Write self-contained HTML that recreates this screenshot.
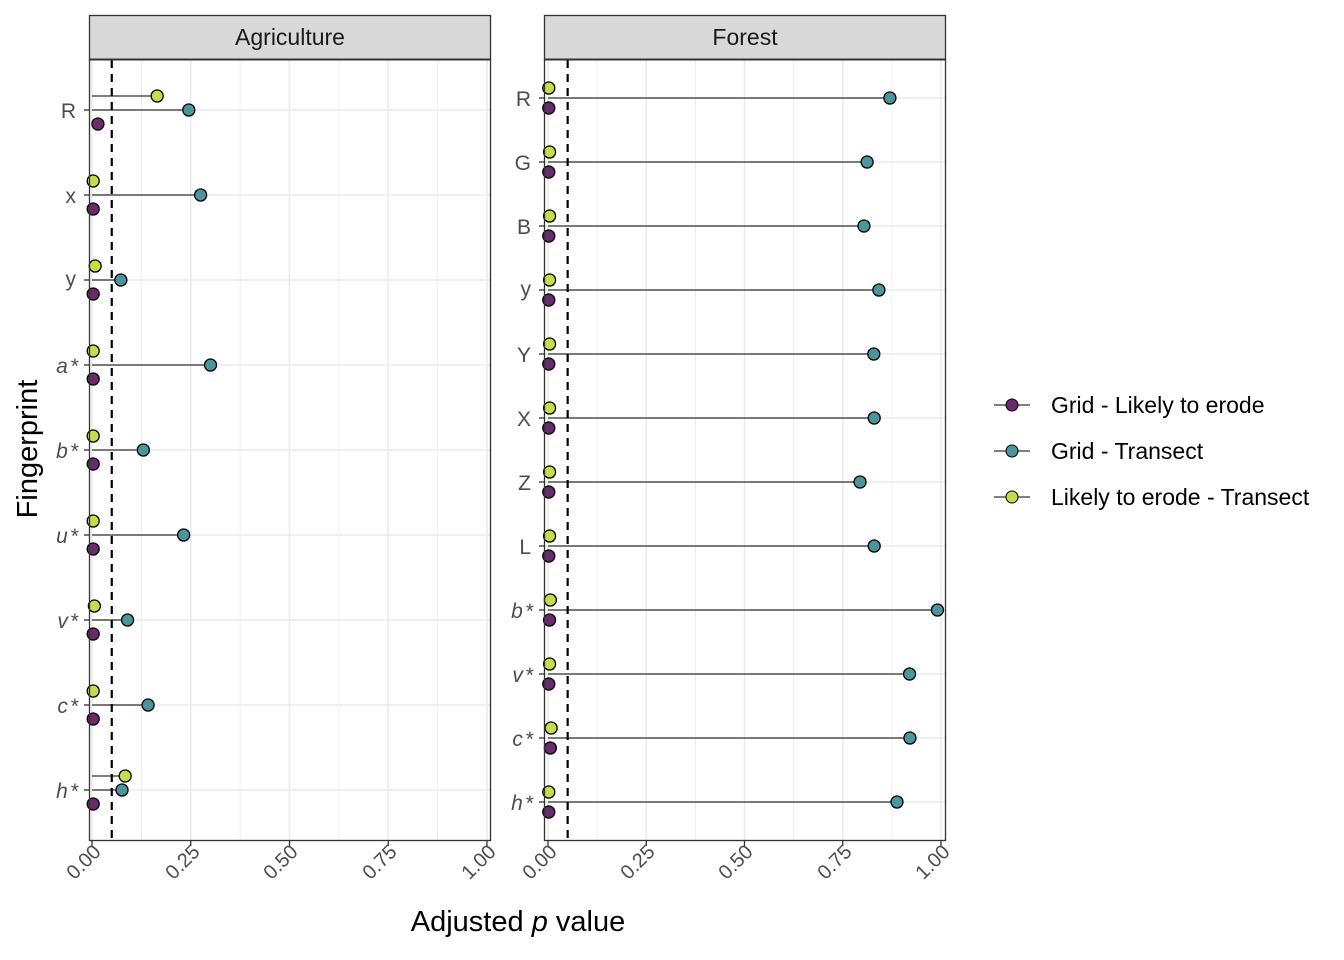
<!DOCTYPE html>
<html><head><meta charset="utf-8"><style>
body{margin:0;background:#fff}
svg{display:block;font-family:"Liberation Sans",sans-serif}
.tl{fill:#4d4d4d}
.it{font-style:italic}
</style></head><body>
<svg width="1344" height="960" viewBox="0 0 1344 960" xmlns="http://www.w3.org/2000/svg">
<g id="grid"></g>
<g id="data"></g>
<rect x="89.5" y="59.5" width="401" height="781" fill="none" stroke="#333" stroke-width="1.3"/>
<rect x="544.5" y="59.5" width="401" height="781" fill="none" stroke="#333" stroke-width="1.3"/>
<rect x="89.5" y="15.5" width="401" height="44" fill="#d9d9d9" stroke="#333" stroke-width="1.3"/>
<rect x="544.5" y="15.5" width="401" height="44" fill="#d9d9d9" stroke="#333" stroke-width="1.3"/>
<line x1="89" y1="59.5" x2="491" y2="59.5" stroke="#333" stroke-width="2"/>
<line x1="544" y1="59.5" x2="946" y2="59.5" stroke="#333" stroke-width="2"/>
<text x="290" y="45" text-anchor="middle" font-size="23" fill="#1a1a1a">Agriculture</text>
<text x="745" y="45" text-anchor="middle" font-size="23" fill="#1a1a1a">Forest</text>
<g class="tl" text-anchor="end" style="font-size:21px">
<text x="76" y="118">R</text>
<text x="76" y="203">x</text>
<text x="76" y="286">y</text>
<text x="78" y="373" class="it">a<tspan dx="2">*</tspan></text>
<text x="78" y="458" class="it">b<tspan dx="2">*</tspan></text>
<text x="78" y="543" class="it">u<tspan dx="2">*</tspan></text>
<text x="78" y="628" class="it">v<tspan dx="2">*</tspan></text>
<text x="78" y="713" class="it">c<tspan dx="2">*</tspan></text>
<text x="78" y="798" class="it">h<tspan dx="2">*</tspan></text>
<text x="531" y="106">R</text>
<text x="531" y="170">G</text>
<text x="531" y="234">B</text>
<text x="531" y="296">y</text>
<text x="531" y="362">Y</text>
<text x="531" y="426">X</text>
<text x="531" y="490">Z</text>
<text x="531" y="554">L</text>
<text x="533" y="618" class="it">b<tspan dx="2">*</tspan></text>
<text x="533" y="682" class="it">v<tspan dx="2">*</tspan></text>
<text x="533" y="746" class="it">c<tspan dx="2">*</tspan></text>
<text x="533" y="810" class="it">h<tspan dx="2">*</tspan></text>
</g>
<g class="tl" style="font-size:20px" text-anchor="end">
<text transform="translate(102,853) rotate(-45)">0.00</text>
<text transform="translate(201,853) rotate(-45)">0.25</text>
<text transform="translate(299,853) rotate(-45)">0.50</text>
<text transform="translate(398,853) rotate(-45)">0.75</text>
<text transform="translate(497,853) rotate(-45)">1.00</text>
<text transform="translate(558,853) rotate(-45)">0.00</text>
<text transform="translate(656,853) rotate(-45)">0.25</text>
<text transform="translate(754,853) rotate(-45)">0.50</text>
<text transform="translate(853,853) rotate(-45)">0.75</text>
<text transform="translate(951,853) rotate(-45)">1.00</text>
</g>
<text x="518" y="931" text-anchor="middle" font-size="29" fill="#000">Adjusted <tspan font-style="italic">p</tspan> value</text>
<text transform="translate(37,449) rotate(-90)" text-anchor="middle" font-size="29" fill="#000">Fingerprint</text>
<g stroke="#000" stroke-width="1">
<line x1="994" y1="405" x2="1030" y2="405"/><circle cx="1012" cy="405" r="6" fill="#6a2a6e"/>
<line x1="994" y1="451" x2="1030" y2="451"/><circle cx="1012" cy="451" r="6" fill="#4b969d"/>
<line x1="994" y1="497" x2="1030" y2="497"/><circle cx="1012" cy="497" r="6" fill="#c6dc4c"/>
</g>
<g font-size="23" fill="#000">
<text x="1051" y="413">Grid - Likely to erode</text>
<text x="1051" y="459">Grid - Transect</text>
<text x="1051" y="505">Likely to erode - Transect</text>
</g>
<script>
var ns="http://www.w3.org/2000/svg";
function el(p,t,a){var e=document.createElementNS(ns,t);for(var k in a)e.setAttribute(k,a[k]);p.appendChild(e);return e;}
var G=document.getElementById('grid'),D=document.getElementById('data');
var panels=[{x0:92,s:395,l:89,r:490,rows:[110,195,280,365,450,535,620,705,790],dy:14,
 pts:[[0.015,0.245,0.165],[0.003,0.275,0.003],[0.003,0.073,0.008],[0.003,0.3,0.003],[0.003,0.13,0.003],[0.003,0.232,0.003],[0.003,0.09,0.006],[0.003,0.142,0.003],[0.003,0.076,0.084]]},
 {x0:548,s:393,l:544,r:945,rows:[98,162,226,290,354,418,482,546,610,674,738,802],dy:10,
 pts:[[0.002,0.87,0.002],[0.002,0.812,0.004],[0.002,0.804,0.004],[0.002,0.842,0.004],[0.002,0.829,0.004],[0.002,0.83,0.004],[0.002,0.794,0.004],[0.002,0.83,0.004],[0.004,0.991,0.006],[0.002,0.92,0.004],[0.006,0.921,0.008],[0.002,0.888,0.002]]}];
panels.forEach(function(p){
 el(G,'rect',{x:p.l,y:59,width:p.r-p.l,height:781,fill:'#fff'});
 for(var i=0;i<=8;i++){var x=p.x0+p.s*i/8;el(G,'line',{x1:x,x2:x,y1:60,y2:840,stroke:'#ebebeb','stroke-width':i%2?0.8:1.6});
  if(i%2==0)el(G,'line',{x1:x,x2:x,y1:840,y2:846,stroke:'#333','stroke-width':1.3});}
 p.rows.forEach(function(y){el(G,'line',{x1:p.l,x2:p.r,y1:y,y2:y,stroke:'#ebebeb','stroke-width':1.6});
  el(G,'line',{x1:p.l-5,x2:p.l,y1:y,y2:y,stroke:'#333','stroke-width':1.3});});
 var dx=p.x0+p.s*0.05;
 el(D,'line',{x1:dx,x2:dx,y1:60,y2:840,stroke:'#000','stroke-width':2.2,'stroke-dasharray':'8,6'});
 var cols=['#6a2a6e','#4b969d','#c6dc4c'],offs=[p.dy,0,-p.dy];
 p.pts.forEach(function(v,r){var y=p.rows[r];
  for(var k=0;k<3;k++){var yy=y+offs[k],xx=p.x0+p.s*v[k];
   el(D,'line',{x1:p.x0,x2:xx,y1:yy,y2:yy,stroke:'#000','stroke-width':1});}
  for(var k=0;k<3;k++){var yy=y+offs[k],xx=p.x0+p.s*v[k];
   el(D,'circle',{cx:xx,cy:yy,r:6,fill:cols[k],stroke:'#000','stroke-width':1.3});}
 });
});
</script>
</svg>
</body></html>
